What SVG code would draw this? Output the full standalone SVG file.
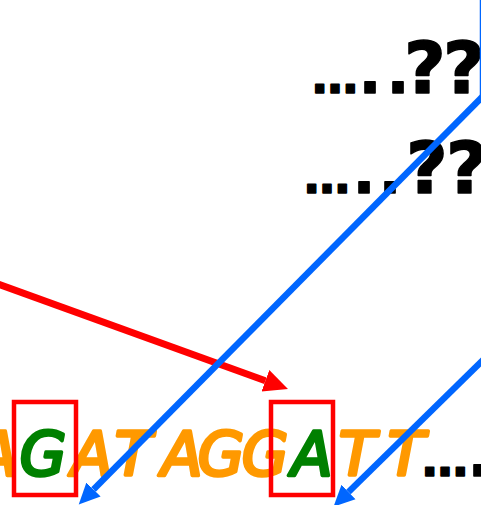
<svg xmlns="http://www.w3.org/2000/svg" width="481" height="505" viewBox="0 0 481 505">
<style>
.q{font-family:"DejaVu Sans",sans-serif;font-weight:bold;fill:#000;stroke:#000;stroke-width:1.5;stroke-linejoin:round;text-anchor:middle}
.b{font-family:"DejaVu Sans",sans-serif;font-style:oblique;font-size:60px;text-anchor:middle;stroke-linejoin:round;stroke-linecap:round;stroke-width:3.5}
.o{fill:#FF9900;stroke:#FF9900}
.g{fill:#008000;stroke:#008000}
.box{fill:none;stroke:#FF0000;stroke-width:4.5}
.blue{stroke:#0066FF;stroke-width:6.5;fill:none;marker-end:url(#ab)}
.red{stroke:#FF0000;stroke-width:7;fill:none;marker-end:url(#ar)}
</style>
<defs>
<marker id="ab" markerUnits="userSpaceOnUse" markerWidth="24" markerHeight="24" viewBox="0 -12 24 24" refX="0" refY="0" orient="auto"><path d="M0,-10 L21,0 L0,10 z" fill="#0066FF"/></marker>
<marker id="ar" markerUnits="userSpaceOnUse" markerWidth="26" markerHeight="26" viewBox="0 -13 26 26" refX="0" refY="0" orient="auto"><path d="M0,-11.5 L24,0 L0,11.5 z" fill="#FF0000"/></marker>
</defs>
<g id="line1">
<text class="q" font-size="72" y="93"><tspan x="335" font-size="46">…</tspan><tspan x="370" font-size="58">.</tspan><tspan x="398" font-size="58">.</tspan><tspan x="425">?</tspan><tspan x="464">?</tspan></text>
</g>
<g id="line2">
<text class="q" font-size="72" y="193"><tspan x="327" font-size="46">…</tspan><tspan x="364" font-size="58">.</tspan><tspan x="390" font-size="58">.</tspan><tspan x="427">?</tspan><tspan x="467">?</tspan></text>
</g>
<g id="sequence">
<text class="b" y="475"><tspan class="o" x="-3">A</tspan><tspan class="g" x="43">G</tspan><tspan class="o" x="92">A</tspan><tspan class="o" x="133">T</tspan><tspan class="o" x="182">A</tspan><tspan class="o" x="221">G</tspan><tspan class="o" x="265">G</tspan><tspan class="g" x="312">A</tspan><tspan class="o" x="357">T</tspan><tspan class="o" x="406">T</tspan></text>
<text class="q" y="476"><tspan x="445" font-size="46">…</tspan><tspan x="479" font-size="58">.</tspan></text>
</g>
<g id="box1"><rect class="box" x="14" y="402" width="62" height="93"/></g>
<g id="box2"><rect class="box" x="271" y="402" width="62" height="93"/></g>
<g id="connectors">
<path class="red" d="M-2,284 L265.4,380.8"/>
<line x1="480.5" y1="0" x2="480.5" y2="100" stroke="#0066FF" stroke-width="1.5"/>
<path class="blue" d="M484,95 L93.5,489.5"/>
<path class="blue" d="M484,359 L348.5,492"/>
</g>
</svg>
